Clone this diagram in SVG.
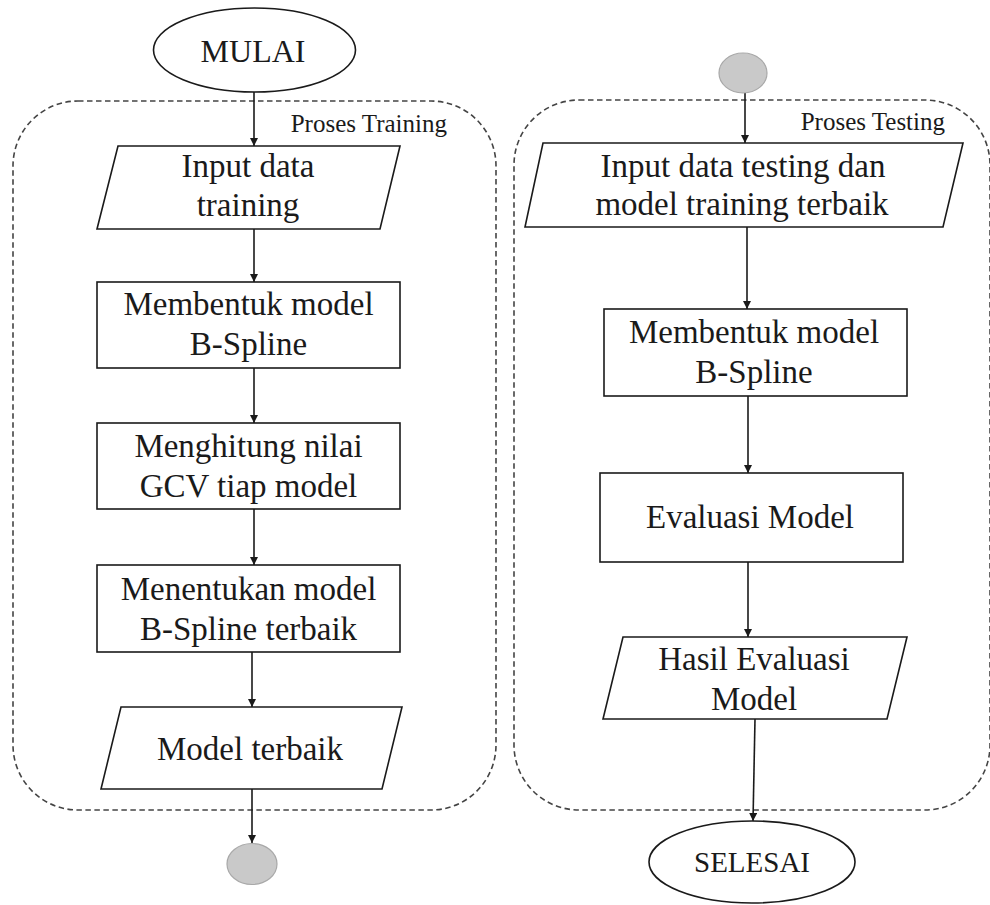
<svg xmlns="http://www.w3.org/2000/svg" width="990" height="905" viewBox="0 0 990 905">
<style>
.bg{fill:#ffffff}
.node{fill:#ffffff;stroke:#1a1a1a;stroke-width:1.6}
.term{fill:#ffffff;stroke:#1a1a1a;stroke-width:1.6}
.conn-dot{fill:#c9c9c9;stroke:#a8a8a8;stroke-width:1.2}
.group{fill:none;stroke:#444444;stroke-width:1.6;stroke-dasharray:5.5 3.5}
.t{font-family:"Liberation Serif","Times New Roman",serif;font-size:33px;fill:#1a1a1a;text-anchor:middle}
.lbl{font-family:"Liberation Serif","Times New Roman",serif;font-size:25px;fill:#1a1a1a;text-anchor:end}
.edge{fill:none;stroke:#1a1a1a;stroke-width:1.6;marker-end:url(#arr)}
</style>
<defs>
<marker id="arr" viewBox="0 0 10 10" refX="10" refY="5" markerWidth="8" markerHeight="8" markerUnits="userSpaceOnUse" orient="auto">
<path d="M0,0 L10,5 L0,10 z" fill="#1a1a1a"/>
</marker>
</defs>
<rect class="bg" x="0" y="0" width="990" height="905"/>

<g id="group-training">
<rect class="group" x="13" y="101" width="483" height="709" rx="65" ry="65"/>
<text class="lbl" x="447" y="132">Proses Training</text>
</g>
<g id="group-testing">
<rect class="group" x="514" y="100" width="476" height="710" rx="65" ry="65"/>
<text class="lbl" x="945" y="130">Proses Testing</text>
</g>

<g id="connectors">
<line class="edge" x1="254" y1="92" x2="254" y2="146"/>
<line class="edge" x1="254" y1="229" x2="254" y2="282"/>
<line class="edge" x1="254" y1="368" x2="254" y2="423"/>
<line class="edge" x1="254" y1="509" x2="254" y2="565"/>
<line class="edge" x1="252" y1="652" x2="252" y2="707"/>
<line class="edge" x1="252" y1="789" x2="252" y2="843"/>
<line class="edge" x1="745" y1="93" x2="745" y2="143"/>
<line class="edge" x1="747" y1="227" x2="747" y2="309"/>
<line class="edge" x1="748" y1="396" x2="748" y2="473"/>
<line class="edge" x1="748" y1="562" x2="748" y2="637"/>
<line class="edge" x1="755" y1="719" x2="753" y2="821"/>
</g>

<g id="mulai">
<ellipse class="term" cx="254.5" cy="50" rx="101" ry="42"/>
<text class="t" x="253" y="62" style="font-size:32px">MULAI</text>
</g>

<g id="input-training">
<polygon class="node" points="118,146 400,146 380,229 97,229"/>
<text class="t" x="248" y="177">Input data</text>
<text class="t" x="248" y="216">training</text>
</g>

<g id="bspline-train">
<rect class="node" x="97" y="282" width="303" height="86"/>
<text class="t" x="248.5" y="315">Membentuk model</text>
<text class="t" x="248.5" y="355">B-Spline</text>
</g>

<g id="gcv">
<rect class="node" x="97" y="423" width="303" height="86"/>
<text class="t" x="248.5" y="457">Menghitung nilai</text>
<text class="t" x="248.5" y="497">GCV tiap model</text>
</g>

<g id="best-model">
<rect class="node" x="97" y="565" width="303" height="87"/>
<text class="t" x="248.5" y="600">Menentukan model</text>
<text class="t" x="248.5" y="640">B-Spline terbaik</text>
</g>

<g id="model-terbaik">
<polygon class="node" points="121,707 402,707 382,789 101,789"/>
<text class="t" x="250" y="760">Model terbaik</text>
</g>

<g id="connector-out">
<ellipse class="conn-dot" cx="252" cy="864" rx="25" ry="20.5"/>
</g>

<g id="connector-in">
<ellipse class="conn-dot" cx="743" cy="73" rx="24" ry="20"/>
</g>

<g id="input-testing">
<polygon class="node" points="543,143 963,143 943,227 525,227"/>
<text class="t" x="743" y="177">Input data testing dan</text>
<text class="t" x="742" y="215">model training terbaik</text>
</g>

<g id="bspline-test">
<rect class="node" x="604" y="309" width="303" height="87"/>
<text class="t" x="754" y="343">Membentuk model</text>
<text class="t" x="754" y="383">B-Spline</text>
</g>

<g id="evaluasi">
<rect class="node" x="600" y="473" width="303" height="89"/>
<text class="t" x="750" y="528">Evaluasi Model</text>
</g>

<g id="hasil">
<polygon class="node" points="623,637 907,637 887,719 603,719"/>
<text class="t" x="754" y="670">Hasil Evaluasi</text>
<text class="t" x="754" y="710">Model</text>
</g>

<g id="selesai">
<ellipse class="term" cx="752" cy="862" rx="103" ry="41"/>
<text class="t" x="752" y="872" style="font-size:29px">SELESAI</text>
</g>
</svg>
